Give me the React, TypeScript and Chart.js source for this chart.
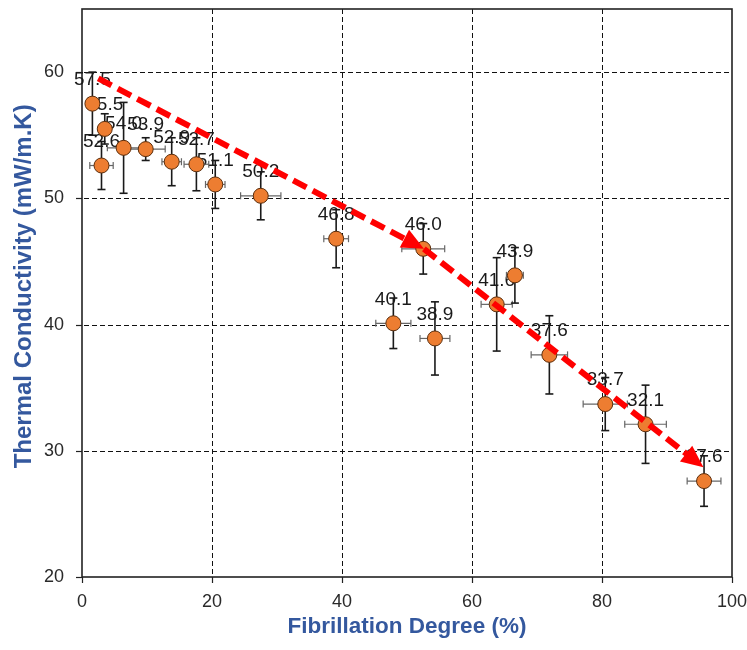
import React, { useEffect, useRef } from 'react';
import { Chart, registerables } from 'chart.js';

Chart.register(...registerables);

const fibrillation = [1.6, 3.5, 3.0, 6.4, 9.8, 13.8, 17.6, 20.5, 27.5, 39.1, 52.5, 47.9, 54.3, 63.8, 66.6, 71.9, 80.5, 86.7, 95.7];
const conductivity = [57.5, 55.5, 52.6, 54.0, 53.9, 52.9, 52.7, 51.1, 50.2, 46.8, 46.0, 40.1, 38.9, 41.6, 43.9, 37.6, 33.7, 32.1, 27.6];
const xError = [0.8, 0.8, 1.8, 2.5, 3.0, 1.5, 1.9, 1.5, 3.1, 1.9, 3.3, 2.7, 2.3, 2.4, 1.3, 2.8, 3.4, 3.2, 2.6];
const yError = [2.5, 1.2, 1.9, 3.6, 0.9, 1.9, 2.1, 1.9, 1.9, 2.3, 2.0, 2.0, 2.9, 3.7, 2.2, 3.1, 2.1, 3.1, 2.0];
const trendX = [2.5, 52.6, 95.6];
const trendY = [59.5, 46.0, 28.7];
const xTicks = [0, 20, 40, 60, 80, 100];
const yTicks = [20, 30, 40, 50, 60];

const FONT = '"Liberation Sans", Arial, sans-serif';
const TITLE_COLOR = '#34589e';

const overlay = {
  id: 'overlay',
  beforeDatasetsDraw(chart: any) {
    const { ctx, chartArea: a, scales } = chart;
    const x = scales.x;
    const y = scales.y;
    ctx.save();
    const line = (x0: number, y0: number, x1: number, y1: number) => {
      ctx.beginPath();
      ctx.moveTo(x0, y0);
      ctx.lineTo(x1, y1);
      ctx.stroke();
    };
    // grid
    ctx.strokeStyle = '#111';
    ctx.lineWidth = 1;
    ctx.setLineDash([5, 3]);
    xTicks.forEach((v) => {
      if (v === xTicks[0] || v === xTicks[xTicks.length - 1]) return;
      const px = Math.round(x.getPixelForValue(v)) + 0.5;
      line(px, a.top, px, a.bottom);
    });
    yTicks.forEach((v) => {
      if (v === yTicks[0]) return;
      const py = Math.round(y.getPixelForValue(v)) + 0.5;
      line(a.left - 6, py, a.right, py);
    });
    ctx.setLineDash([]);
    // tick marks
    ctx.strokeStyle = '#222';
    ctx.lineWidth = 1.2;
    xTicks.forEach((v) => {
      const px = Math.round(x.getPixelForValue(v)) + 0.5;
      line(px, a.bottom, px, a.bottom + 6);
    });
    yTicks.forEach((v) => {
      const py = Math.round(y.getPixelForValue(v)) + 0.5;
      line(a.left - 6, py, a.left, py);
    });
    // border
    ctx.lineWidth = 1.6;
    ctx.strokeStyle = '#222';
    ctx.strokeRect(a.left, a.top, a.right - a.left, a.bottom - a.top);
    // value labels
    ctx.font = '19px ' + FONT;
    ctx.fillStyle = '#1a1a1a';
    ctx.textAlign = 'center';
    ctx.textBaseline = 'middle';
    conductivity.forEach((v, i) => {
      ctx.fillText(v.toFixed(1), x.getPixelForValue(fibrillation[i]), y.getPixelForValue(v) - 24);
    });
    // error bars
    conductivity.forEach((v, i) => {
      const cx = x.getPixelForValue(fibrillation[i]);
      const cy = y.getPixelForValue(v);
      const xl = x.getPixelForValue(fibrillation[i] - xError[i]);
      const xr = x.getPixelForValue(fibrillation[i] + xError[i]);
      const yt = y.getPixelForValue(v + yError[i]);
      const yb = y.getPixelForValue(v - yError[i]);
      ctx.strokeStyle = '#666';
      ctx.lineWidth = 1.2;
      line(xl, cy, xr, cy);
      line(xl, cy - 3.5, xl, cy + 3.5);
      line(xr, cy - 3.5, xr, cy + 3.5);
      ctx.strokeStyle = '#1a1a1a';
      ctx.lineWidth = 1.6;
      line(cx, yt, cx, yb);
      line(cx - 4, yt, cx + 4, yt);
      line(cx - 4, yb, cx + 4, yb);
    });
    ctx.restore();
  },
  afterDatasetsDraw(chart: any) {
    const { ctx, scales } = chart;
    const x = scales.x;
    const y = scales.y;
    ctx.save();
    ctx.strokeStyle = '#ff0000';
    ctx.fillStyle = '#ff0000';
    ctx.lineWidth = 6;
    ctx.lineCap = 'butt';
    for (let i = 0; i < trendX.length - 1; i++) {
      const x0 = x.getPixelForValue(trendX[i]);
      const y0 = y.getPixelForValue(trendY[i]);
      const x1 = x.getPixelForValue(trendX[i + 1]);
      const y1 = y.getPixelForValue(trendY[i + 1]);
      const dx = x1 - x0;
      const dy = y1 - y0;
      const len = Math.hypot(dx, dy);
      const ux = dx / len;
      const uy = dy / len;
      const head = 22;
      const half = 10;
      ctx.setLineDash([15, 7]);
      ctx.beginPath();
      ctx.moveTo(x0, y0);
      ctx.lineTo(x1 - ux * head * 0.9, y1 - uy * head * 0.9);
      ctx.stroke();
      ctx.setLineDash([]);
      const bx = x1 - ux * head;
      const by = y1 - uy * head;
      ctx.beginPath();
      ctx.moveTo(x1, y1);
      ctx.lineTo(bx - uy * half, by + ux * half);
      ctx.lineTo(bx + uy * half, by - ux * half);
      ctx.closePath();
      ctx.fill();
    }
    ctx.restore();
  },
};

export default function App() {
  const ref = useRef<HTMLCanvasElement | null>(null);
  useEffect(() => {
    document.body.style.margin = '0';
    const canvas = ref.current;
    if (!canvas) return;
    Chart.defaults.font.family = FONT;
    const chart = new Chart(canvas, {
      type: 'scatter',
      data: {
        datasets: [
          {
            data: fibrillation.map((fx, i) => ({ x: fx, y: conductivity[i] })),
            pointRadius: 7.5,
            pointHoverRadius: 7.5,
            backgroundColor: '#ED7D31',
            borderColor: '#5a2d0c',
            borderWidth: 1,
            showLine: false,
          },
        ],
      },
      options: {
        responsive: false,
        animation: false,
        events: [],
        layout: { padding: { top: 9, right: 15, left: 0, bottom: 0 } },
        plugins: { legend: { display: false }, tooltip: { enabled: false } },
        scales: {
          x: {
            type: 'linear',
            min: 0,
            max: 100,
            afterBuildTicks: (s: any) => {
              s.ticks = xTicks.map((v) => ({ value: v }));
            },
            afterFit: (s: any) => {
              s.height = 73;
              s.paddingLeft = 0;
              s.paddingRight = 0;
              s.paddingTop = 0;
              s.paddingBottom = 0;
            },
            ticks: { color: '#2a2a2a', font: { size: 18, family: FONT }, padding: 14, maxRotation: 0 },
            grid: { display: false, drawTicks: false },
            border: { display: false },
            title: {
              display: true,
              text: 'Fibrillation Degree (%)',
              color: TITLE_COLOR,
              font: { size: 22.5, weight: 'bold', family: FONT },
              padding: { top: 0, bottom: 10 },
            },
          },
          y: {
            type: 'linear',
            min: 20,
            max: 65,
            afterBuildTicks: (s: any) => {
              s.ticks = yTicks.map((v) => ({ value: v }));
            },
            afterFit: (s: any) => {
              s.width = 82;
              s.paddingLeft = 0;
              s.paddingRight = 0;
              s.paddingTop = 0;
              s.paddingBottom = 0;
            },
            ticks: { color: '#2a2a2a', font: { size: 18, family: FONT }, padding: 18 },
            grid: { display: false, drawTicks: false },
            border: { display: false },
            title: {
              display: true,
              text: '  Thermal Conductivity (mW/m.K)',
              color: TITLE_COLOR,
              font: { size: 24, weight: 'bold', family: FONT },
              padding: { top: 10, bottom: 0 },
            },
          },
        },
      },
      plugins: [overlay],
    } as any);
    return () => chart.destroy();
  }, []);
  return (
    <div style={{ width: 747, height: 650 }}>
      <canvas ref={ref} width={747} height={650} style={{ display: 'block' }} />
    </div>
  );
}
